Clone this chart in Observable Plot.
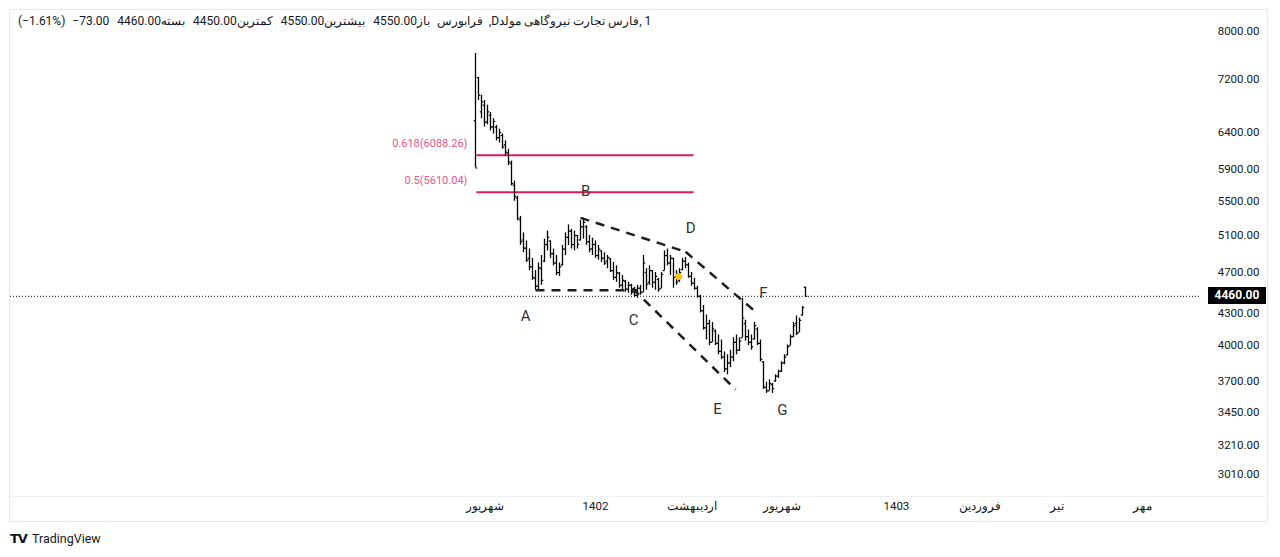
<!DOCTYPE html>
<html><head><meta charset="utf-8">
<script src="https://cdn.jsdelivr.net/npm/d3@7"></script>
<script src="https://cdn.jsdelivr.net/npm/@observablehq/plot@0.6"></script>
<style>
body{margin:0;background:#fff;font-family:Roboto,"Noto Sans",sans-serif;color:#131722;}
#wrap{position:relative;width:1280px;height:557px;overflow:hidden;direction:ltr;}
#chart{position:absolute;left:0;top:0;}
.box{position:absolute;left:9px;top:9px;width:1259px;height:513px;border:1px solid #e6e8ee;box-sizing:border-box;pointer-events:none;}
.sep{position:absolute;left:9px;top:496px;width:1259px;height:1px;background:#eef0f3;}
#title{position:absolute;left:18px;top:14px;height:16px;width:900px;font-size:12px;color:#131722;}
#title span{position:absolute;top:0;white-space:pre;unicode-bidi:isolate;}
#price{position:absolute;left:1208px;width:58px;height:17px;background:#000;color:#fff;font-weight:700;font-size:12px;line-height:17px;text-align:center;}
#footer{position:absolute;left:10px;top:531px;font-size:12.5px;color:#131722;display:flex;align-items:center;}
#footer b{font-weight:900;font-size:13px;letter-spacing:-1px;margin-right:5px;font-family:"DejaVu Sans",sans-serif;}
</style></head><body>
<div id="wrap">
<div id="chart"></div>
<div class="box"></div>
<div class="sep"></div>
<div id="title"></div>
<div id="price"></div>
<div id="footer"><b>TV</b><span>TradingView</span></div>
</div>
<script>
// OHLC series (bar index 0..110)
const opens  = [6570,7226,6700,6800,6550,6650,6480,6480,6330,6360,6230,6120,5980,5700,5540,5280,5050,4960,4850,4760,4640,4560,4740,4820,5000,5040,4900,4800,4700,4780,4950,5080,5150,5000,5100,5050,5200,5200,5030,4950,5000,4880,4930,4850,4820,4845,4720,4650,4690,4570,4610,4530,4570,4500,4470,4540,4500,4700,4600,4720,4600,4630,4540,4720,4880,4800,4850,4650,4620,4730,4820,4780,4660,4590,4540,4460,4320,4160,4200,4030,4130,4020,3950,3900,3800,3850,3900,4030,3960,4070,4200,4080,4030,4060,4150,4020,3860,3650,3620,3670,3700,3740,3780,3850,3920,4000,4080,4200,4120,4280,4550];
const highs  = [7620,7226,6950,6870,6800,6690,6600,6500,6450,6380,6285,6170,6010,5750,5560,5320,5130,5040,4950,4850,4720,4800,4880,5060,5150,5040,4950,4880,4800,4990,5130,5220,5170,5150,5100,5270,5300,5210,5100,5070,5040,4990,4930,4910,4880,4845,4805,4770,4700,4670,4620,4600,4580,4550,4570,4570,4880,4740,4770,4720,4700,4640,4700,4930,4950,4880,4850,4720,4740,4850,4860,4800,4700,4640,4560,4470,4370,4280,4230,4210,4140,4095,4050,3945,3920,3960,4070,4095,4070,4440,4230,4140,4095,4210,4160,4050,3860,3690,3710,3680,3750,3790,3860,3920,4006,4095,4210,4270,4250,4360,4550];
const lows   = [5920,6870,6600,6480,6510,6425,6380,6285,6255,6170,6080,5950,5690,5500,5270,4990,4910,4805,4720,4620,4520,4520,4570,4805,4930,4850,4770,4670,4660,4770,4880,4990,4950,4930,4950,5040,5060,4990,4910,4880,4850,4830,4805,4775,4740,4700,4620,4600,4540,4520,4500,4490,4470,4450,4440,4470,4500,4520,4570,4540,4520,4500,4540,4720,4770,4670,4540,4570,4600,4720,4740,4640,4560,4520,4440,4300,4140,4050,4000,4030,4000,3920,3880,3770,3750,3810,3860,3920,3950,4070,4040,4000,3960,4050,4000,3860,3630,3600,3620,3600,3690,3720,3770,3835,3910,4000,4070,4090,4120,4270,4450];
const closes = [5920,6950,6850,6550,6700,6480,6560,6330,6400,6200,6130,6000,5720,5560,5300,5030,4960,4830,4760,4650,4560,4750,4620,5000,5080,4900,4800,4700,4760,4950,5080,5150,5000,5100,5000,5200,5250,5030,4950,5000,4880,4950,4850,4800,4860,4720,4650,4700,4570,4620,4530,4570,4500,4470,4540,4500,4800,4580,4720,4600,4660,4530,4680,4880,4800,4850,4650,4600,4700,4820,4780,4660,4590,4540,4460,4320,4160,4200,4030,4150,4020,3950,3900,3800,3850,3900,4030,3960,4040,4250,4080,4030,3990,4180,4020,3880,3650,3620,3680,3640,3740,3780,3850,3900,3990,4080,4180,4110,4230,4350,4460];

// price axis ticks
const yTicks = [8000,7200,6400,5900,5500,5100,4700,4300,4000,3700,3450,3210,3010];
// time axis labels (position in bar index)
const xTickPos    = [3.3, 40, 72.3, 102.3, 140.3, 168.3, 193.7, 222.3];
const xTickLabels = ["شهریور","1402","اردیبهشت","شهریور","1403","فروردین","تیر","مهر"];
const xTickBold   = [false,true,false,false,true,false,false,false];

// Fibonacci levels
const fibLevels = [0.618, 0.5];
const fibPrices = [6088.26, 5610.04];
const fibFrom = 0.3, fibTo = 72.7;

// wave labels
const waveNames = ["A","B","C","D","E","F","G"];
const waveIdx   = [16.7, 36.7, 52.7, 71.7, 80.7, 96, 102.3];
const wavePrice = [4269, 5628, 4232, 5189, 3478, 4487, 3470];

// dashed pattern lines
const lineX1 = [20, 35, 70, 52.3];
const lineY1 = [4519, 5303, 4921, 4539];
const lineX2 = [54, 70, 94.3, 86.7];
const lineY2 = [4519, 4921, 4287, 3631];

// marker
const markerIdx = [67.7], markerPrice = [4660];

const lastClose = 4460;
// header tokens in visual left-to-right order: [text, gap before, isPersian]
const headerText = ["(−1.61%)","−73.00","4460.00","بسته","4450.00","کمترین","4550.00","بیشترین","4550.00","باز","فرابورس"," ,D","مولد","نیروگاهی","تجارت","فارس",", 1"];
const headerGap  = [0,7,8,0,8,0,8,0,8,0,7,3,0,3,3,3,0];
const headerFa   = [0,0,0,1,0,1,0,1,0,1,1,0,1,1,1,1,0];

const bars = opens.map((o,i)=>({i, o, h:highs[i], l:lows[i], c:closes[i]}));
const fib = fibLevels.map((lv,k)=>({lv, p:fibPrices[k]}));
const waves = waveNames.map((n,k)=>({n, x:waveIdx[k], y:wavePrice[k]}));
const segs = lineX1.map((x,k)=>({x1:x, y1:lineY1[k], x2:lineX2[k], y2:lineY2[k]}));
const marker = markerIdx.map((x,k)=>({x, y:markerPrice[k]}));
const xt = xTickPos.map((x,k)=>({x, t:xTickLabels[k], b:xTickBold[k]}));

const plot = Plot.plot({
  width:1280, height:525,
  marginLeft:10, marginRight:80, marginTop:9, marginBottom:29,
  x:{type:"linear", domain:[-155, 241.67], axis:null},
  y:{type:"log", domain:[2867.4, 8398], axis:null},
  style:{fontFamily:"Roboto, 'Noto Sans', sans-serif", background:"transparent", overflow:"visible"},
  marks:[
    Plot.ruleY([lastClose], {stroke:"#131722", strokeDasharray:"1,2", strokeWidth:1}),
    Plot.link(fib, {x1:()=>fibFrom, x2:()=>fibTo, y1:"p", y2:"p", stroke:"#d81b60", strokeWidth:2}),
    Plot.text(fib, {x:()=>fibFrom, y:"p", text:d=>`${d.lv}(${d.p.toFixed(2)})`, textAnchor:"end", dx:-9, dy:-12, fill:"#e8558a", fontSize:11}),
    Plot.ruleX(bars, {x:"i", y1:"l", y2:"h", stroke:"#000", strokeWidth:1.3}),
    Plot.link(bars, {x1:d=>d.i-0.6, x2:"i", y1:"o", y2:"o", stroke:"#000", strokeWidth:1.2}),
    Plot.link(bars, {x1:"i", x2:d=>d.i+0.6, y1:"c", y2:"c", stroke:"#000", strokeWidth:1.2}),
    Plot.link(segs, {x1:"x1", y1:"y1", x2:"x2", y2:"y2", stroke:"#1e1e1e", strokeWidth:2.5, strokeDasharray:"9,7"}),
    Plot.text(waves, {x:"x", y:"y", text:"n", fontSize:15, fill:"#333"}),
    Plot.dot(marker, {x:"x", y:"y", r:3.5, fill:"#f5c400", stroke:"none"}),
    Plot.text(yTicks, {y:d=>d, text:d=>d.toFixed(2), frameAnchor:"right", textAnchor:"end", dx:59, fontSize:11.5, fill:"#131722"}),
    Plot.text(xt, {x:"x", text:"t", frameAnchor:"bottom", dy:13, fontSize:11.5, fill:"#131722", fontWeight:d=>d.b?"700":"400"})
  ]
});
document.getElementById("chart").appendChild(plot);

const title = document.getElementById("title");
let left = 0;
headerText.forEach((t,k)=>{
  const s = document.createElement("span");
  s.textContent = t;
  s.dir = headerFa[k] ? "rtl" : "ltr";
  title.appendChild(s);
  left += headerGap[k];
  s.style.left = left + "px";
  left += s.getBoundingClientRect().width;
});

const pb = document.getElementById("price");
pb.textContent = lastClose.toFixed(2);
pb.style.top = (plot.scale("y").apply(lastClose) - 8.5) + "px";
</script>
</body></html>
